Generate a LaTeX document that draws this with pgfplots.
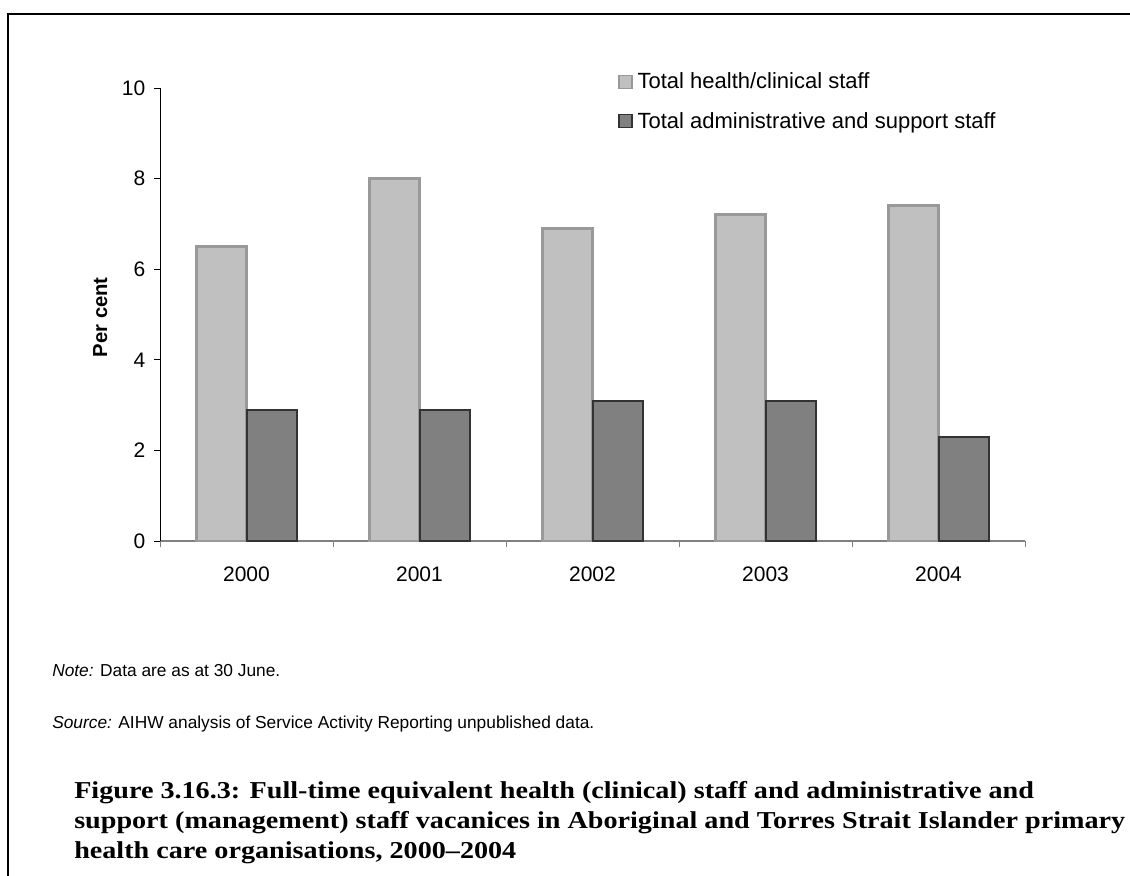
\documentclass[border=0pt]{standalone}
\usepackage{fontspec}
\setmainfont{Liberation Sans}
\newfontfamily\capfont[FakeStretch=1.16]{Liberation Serif}
\usepackage{pgfplots}
\pgfplotsset{compat=1.18}
\definecolor{lightbar}{HTML}{C0C0C0}
\definecolor{lightedge}{HTML}{999999}
\definecolor{darkbar}{HTML}{808080}
\definecolor{darkedge}{HTML}{333333}
\begin{document}
\begin{tikzpicture}
\path[use as bounding box] (0,0) rectangle (847.5pt,-656.25pt);
\begin{scope}[x=0.75pt,y=-0.75pt]
\draw[line width=1.8pt] (8,880) -- (8,14) -- (1135,14);
\begin{scope}[every node/.style={anchor=base west, inner sep=0, font=\fontsize{13}{15}\selectfont}]
\node at (52,676) {\textit{Note:} Data are as at 30 June.};
\node at (52,728) {\textit{Source:} AIHW analysis of Service Activity Reporting unpublished data.};
\end{scope}
\begin{scope}[every node/.style={anchor=base west, inner sep=0, font=\capfont\bfseries\fontsize{18.2}{22}\selectfont}]
\node at (74,798) {Figure 3.16.3: Full-time equivalent health (clinical) staff and administrative and};
\node at (74,828) {support (management) staff vacanices in Aboriginal and Torres Strait Islander primary};
\node at (74,858) {health care organisations, 2000–2004};
\end{scope}
\end{scope}
\begin{axis}[
  at={(120pt,-405.75pt)}, anchor=south west,
  scale only axis, width=648.75pt, height=339.75pt,
  xmin=-0.5, xmax=4.5, ymin=0, ymax=10,
  axis x line*=bottom, axis y line*=left,
  x axis line style={draw=darkbar, line width=1pt, -},
  y axis line style={draw=black, line width=0.75pt, -},
  xtick={-0.5,0.5,1.5,2.5,3.5,4.5},
  xticklabels={2000,2001,2002,2003,2004},
  x tick label as interval,
  xticklabel style={yshift=-11pt},
  yticklabel style={xshift=-3pt},
  x tick style={draw=darkbar, line width=0.75pt},
  ytick={0,2,4,6,8,10},
  y tick style={draw=black, line width=0.75pt},
  major tick length=4.5pt,
  tick align=outside,
  tick label style={font=\fontsize{15.75}{18}\selectfont},
  /pgf/number format/assume math mode=true,
  ylabel={Per cent},
  ylabel style={font=\bfseries\fontsize{15.2}{18}\selectfont, at={(axis description cs:-0.069,0.494)}, anchor=center},
  legend style={at={(axis description cs:0.5295,0.970)}, anchor=west, draw=none, fill=none,
     font=\fontsize{16.5}{19}\selectfont, row sep=13pt, column sep=2.25pt, inner sep=0pt, nodes={inner sep=1.5pt}, cells={anchor=west}},
  legend image code/.code={\draw[#1, line width=1pt] (0pt,-4.9pt) rectangle (9.75pt,4.9pt);},
]
\addplot[ybar, bar width=37.5pt, bar shift=-18.75pt, fill=lightbar, draw=lightedge, line width=2.25pt]
  coordinates {(0,6.5) (1,8.0) (2,6.9) (3,7.2) (4,7.4)};
\addlegendentry{Total health/clinical staff}
\addplot[ybar, bar width=37.5pt, bar shift=18.75pt, fill=darkbar, draw=darkedge, line width=1.5pt]
  coordinates {(0,2.9) (1,2.9) (2,3.1) (3,3.1) (4,2.3)};
\addlegendentry{Total administrative and support staff}
\end{axis}
\end{tikzpicture}
\end{document}
